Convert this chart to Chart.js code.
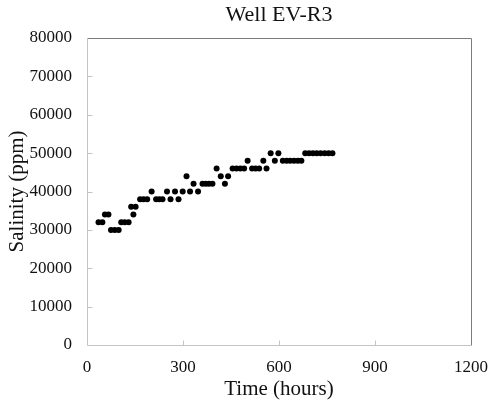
<!DOCTYPE html>
<html>
<head>
<meta charset="utf-8">
<script src="https://cdn.jsdelivr.net/npm/chart.js@4.4.1/dist/chart.umd.min.js"></script>
<style>
  html, body { margin: 0; padding: 0; background: #fff; }
  #wrap { width: 490px; height: 402px; }
</style>
</head>
<body>
<div id="wrap"><canvas id="salinityChart"></canvas></div>
<script>
// Salinity readings for well EV-R3
const timeHours = [
  36, 48, 56, 67, 75, 87, 99, 107, 118, 130,
  138, 145, 152, 166, 177, 188, 202, 216, 226, 236,
  250, 261, 275, 286, 299, 311, 322, 333, 347, 361,
  371, 381, 392, 405, 418, 431, 441, 455, 467, 479,
  491, 502, 516, 527, 538, 551, 561, 574, 587, 598,
  612, 624, 635, 647, 659, 670, 682, 694, 706, 718,
  730, 743, 755, 767
];
const salinityPpm = [
  32000, 32000, 34000, 34000, 30000, 30000, 30000, 32000, 32000, 32000,
  36000, 34000, 36000, 38000, 38000, 38000, 40000, 38000, 38000, 38000,
  40000, 38000, 40000, 38000, 40000, 44000, 40000, 42000, 40000, 42000,
  42000, 42000, 42000, 46000, 44000, 42000, 44000, 46000, 46000, 46000,
  46000, 48000, 46000, 46000, 46000, 48000, 46000, 50000, 48000, 50000,
  48000, 48000, 48000, 48000, 48000, 48000, 50000, 50000, 50000, 50000,
  50000, 50000, 50000, 50000
];
const xTicks = [0, 300, 600, 900, 1200];
const yTicks = [0, 10000, 20000, 30000, 40000, 50000, 60000, 70000, 80000];

const serif = "'Liberation Serif', 'DejaVu Serif', serif";
const axisColor = '#c4c4c4';
const boxColor = '#7c7c7c';

// axes (light), top/right box edges (darker) and short inward tick marks
const frameTicks = {
  id: 'frameTicks',
  afterDatasetsDraw(chart) {
    const { ctx, chartArea: a, scales } = chart;
    const l = a.left + 0.5, r = a.right + 0.5, t = a.top + 0.5, b = a.bottom + 0.5;
    ctx.save();
    ctx.lineWidth = 1;

    ctx.strokeStyle = boxColor;
    ctx.beginPath();
    ctx.moveTo(l, t);
    ctx.lineTo(r, t);
    ctx.lineTo(r, b);
    ctx.stroke();

    ctx.strokeStyle = axisColor;
    ctx.beginPath();
    ctx.moveTo(l, t);
    ctx.lineTo(l, b);
    ctx.lineTo(r, b);
    xTicks.slice(1, -1).forEach((v) => {
      const px = Math.round(scales.x.getPixelForValue(v)) + 0.5;
      ctx.moveTo(px, b);
      ctx.lineTo(px, b - 5);
    });
    yTicks.slice(1, -1).forEach((v) => {
      const py = Math.round(scales.y.getPixelForValue(v)) + 0.5;
      ctx.moveTo(l, py);
      ctx.lineTo(l + 5, py);
    });
    ctx.stroke();
    ctx.restore();
  },
};

const points = timeHours.map((t, i) => ({ x: t, y: salinityPpm[i] }));

new Chart(document.getElementById('salinityChart'), {
  type: 'scatter',
  data: {
    datasets: [
      {
        data: points,
        backgroundColor: '#000',
        borderWidth: 0,
        pointRadius: 3,
      },
    ],
  },
  options: {
    responsive: true,
    maintainAspectRatio: false,
    animation: false,
    layout: { padding: { top: 0, right: 19, left: 0, bottom: 0 } },
    plugins: {
      legend: { display: false },
      tooltip: { enabled: false },
      title: {
        display: true,
        text: 'Well EV-R3',
        fullSize: false,
        color: '#111',
        font: { family: serif, size: 22, weight: 'normal' },
        padding: { top: 2, bottom: 9.6 },
      },
    },
    scales: {
      x: {
        type: 'linear',
        min: 0,
        max: 1200,
        afterBuildTicks: (scale) => {
          scale.ticks = xTicks.map((v) => ({ value: v }));
        },
        afterFit: (scale) => {
          scale.height = 57;
          scale.paddingRight = 0;
          scale.paddingLeft = 0;
        },
        grid: { display: false, drawTicks: false },
        border: { display: false },
        ticks: {
          color: '#111',
          padding: 12,
          maxRotation: 0,
          font: { family: serif, size: 17 },
          callback: (v) => String(v),
        },
        title: {
          display: true,
          text: 'Time (hours)',
          color: '#111',
          font: { family: serif, size: 21 },
          padding: { top: 0, bottom: 0 },
        },
      },
      y: {
        type: 'linear',
        min: 0,
        max: 80000,
        afterBuildTicks: (scale) => {
          scale.ticks = yTicks.map((v) => ({ value: v }));
        },
        afterFit: (scale) => {
          scale.width = 87;
        },
        grid: { display: false, drawTicks: false },
        border: { display: false },
        ticks: {
          color: '#111',
          padding: 15,
          font: { family: serif, size: 17 },
          callback: (v) => String(v),
        },
        title: {
          display: true,
          text: 'Salinity (ppm)',
          color: '#111',
          font: { family: serif, size: 21 },
          padding: { top: 5, bottom: 0 },
        },
      },
    },
  },
  plugins: [frameTicks],
});
</script>
</body>
</html>
